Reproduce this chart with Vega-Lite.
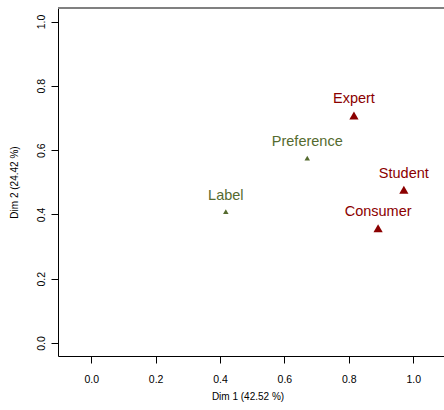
{
  "$schema": "https://vega.github.io/schema/vega-lite/v6.json",
  "width": 386,
  "height": 348,
  "autosize": "none",
  "padding": {"left": 58, "top": 8, "right": 0, "bottom": 54},
  "background": "white",
  "config": {
    "view": {"stroke": null},
    "font": "Liberation Sans",
    "axis": {
      "grid": false,
      "domainColor": "black",
      "domainWidth": 1,
      "tickColor": "black",
      "tickWidth": 1,
      "tickSize": 7,
      "labelColor": "black",
      "titleColor": "black",
      "labelFont": "Liberation Sans",
      "titleFont": "Liberation Sans",
      "labelFontSize": 10.5,
      "titleFontSize": 10,
      "titleFontWeight": "normal"
    }
  },
  "data": {
    "values": [
      {"name": "Expert", "dim1": 0.816, "dim2": 0.708, "kind": "judge"},
      {"name": "Student", "dim1": 0.971, "dim2": 0.477, "kind": "judge"},
      {"name": "Consumer", "dim1": 0.891, "dim2": 0.357, "kind": "judge"},
      {"name": "Preference", "dim1": 0.671, "dim2": 0.575, "kind": "attribute"},
      {"name": "Label", "dim1": 0.418, "dim2": 0.409, "kind": "attribute"}
    ]
  },
  "layer": [
    {
      "mark": {"type": "rule", "color": "#808080", "strokeWidth": 2},
      "encoding": {"y": {"datum": 1.042, "type": "quantitative"}}
    },
    {
      "mark": {"type": "point", "shape": "triangle-up", "filled": true, "opacity": 1},
      "encoding": {
        "x": {
          "field": "dim1",
          "type": "quantitative",
          "scale": {"domain": [-0.1032, 1.0957], "nice": false, "zero": false},
          "axis": {
            "title": "Dim 1 (42.52 %)",
            "values": [0, 0.2, 0.4, 0.6, 0.8, 1.0],
            "format": ".1f",
            "labelPadding": 11,
            "titleX": 189.5,
            "titleY": 43,
            "titleBaseline": "alphabetic",
            "titleAlign": "center"
          }
        },
        "y": {
          "field": "dim2",
          "type": "quantitative",
          "scale": {"domain": [-0.0404, 1.042], "nice": false, "zero": false},
          "axis": {
            "title": "Dim 2 (24.42 %)",
            "values": [0, 0.2, 0.4, 0.6, 0.8, 1.0],
            "format": ".1f",
            "labelAngle": -90,
            "labelAlign": "center",
            "labelBaseline": "alphabetic",
            "labelPadding": 7,
            "titleAngle": -90,
            "titleX": -41,
            "titleY": 174,
            "titleBaseline": "alphabetic",
            "titleAlign": "center"
          }
        },
        "color": {
          "field": "kind",
          "type": "nominal",
          "scale": {"domain": ["judge", "attribute"], "range": ["#8B0000", "#556B2F"]},
          "legend": null
        },
        "size": {
          "field": "kind",
          "type": "nominal",
          "scale": {"domain": ["judge", "attribute"], "range": [85, 30]},
          "legend": null
        }
      }
    },
    {
      "mark": {"type": "text", "baseline": "alphabetic", "align": "center", "dy": -12, "fontSize": 14.5, "font": "Liberation Sans"},
      "encoding": {
        "x": {"field": "dim1", "type": "quantitative"},
        "y": {"field": "dim2", "type": "quantitative"},
        "text": {"field": "name"},
        "color": {"field": "kind", "type": "nominal", "legend": null}
      }
    }
  ]
}
